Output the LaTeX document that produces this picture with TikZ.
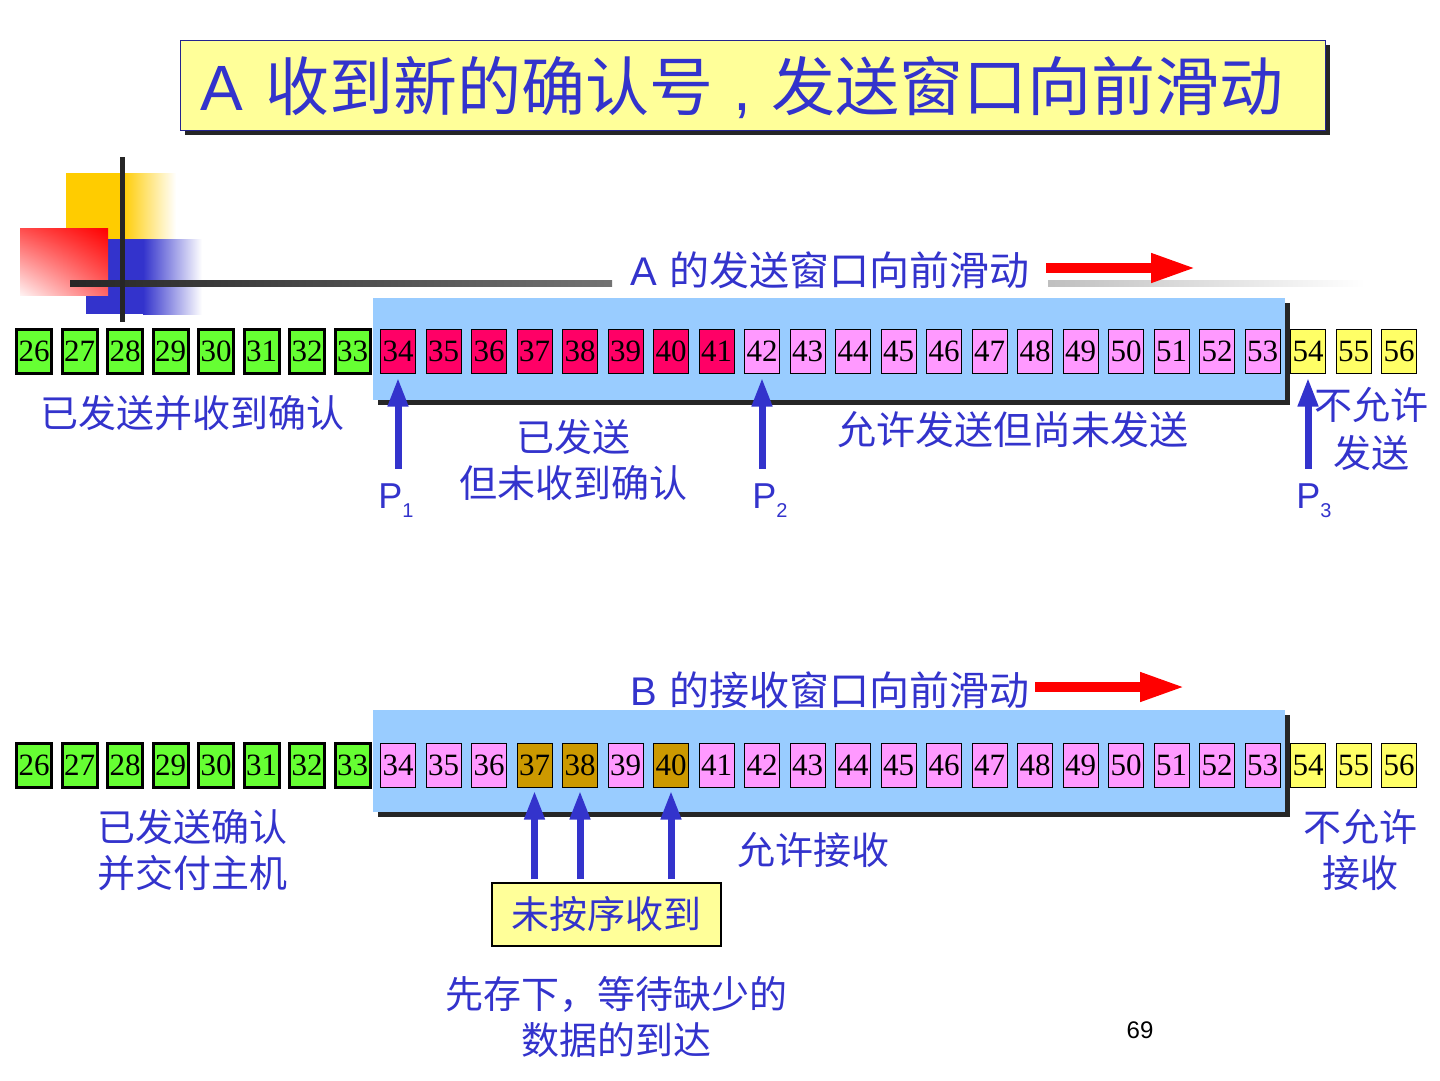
\documentclass[tikz,border=0pt]{standalone}
\usepackage{fontspec}
\setmainfont{Liberation Serif}
\newfontfamily\cjk{Noto Sans CJK SC}
\newfontfamily\arial{Liberation Sans}
\usepackage{xcolor}
\usepackage{tikz}
\usetikzlibrary{positioning, shadows, shadings, arrows.meta}

\definecolor{chu}{HTML}{3333CC}
\definecolor{xanhla}{HTML}{66FF33}
\definecolor{hong}{HTML}{FF0066}
\definecolor{hongnhat}{HTML}{FF99FF}
\definecolor{vang}{HTML}{FFFF66}
\definecolor{vangnhat}{HTML}{FFFF99}
\definecolor{vangdam}{HTML}{FFCC00}
\definecolor{nau}{HTML}{CC9900}
\definecolor{xanhtroi}{HTML}{99CCFF}
\newcommand\cochu[1]{\fontsize{#1}{#1}\selectfont}

\begin{document}
\begin{tikzpicture}[>=latex, x=1pt, y=-1pt,
    o/.style={draw, minimum width=35pt, minimum height=44pt, inner sep=0pt, font=\cochu{31}},
    oxanh/.style={o, fill=xanhla, line width=3pt},
    odo/.style={o, fill=hong, line width=1pt},
    ohong/.style={o, fill=hongnhat, line width=1pt},
    ovang/.style={o, fill=vang, line width=1pt},
    onau/.style={o, fill=nau, line width=1pt},
    nhan/.style={text=chu, font={\cjk\cochu{38}}, align=center, inner sep=0pt},
    pnhan/.style={text=chu, font={\arial\cochu{36}}, anchor=base, inner sep=0pt},
    muiten/.style={-{Triangle[length=29pt, width=19pt]}, draw=chu, line width=7pt},
    muitendo/.style={-{Triangle[length=45pt, width=27pt]}, draw=red, line width=10pt},
    bong/.style={drop shadow={shadow xshift=5pt, shadow yshift=-5pt, fill=black!85, opacity=1}},
    cuaso/.style={bong, fill=xanhtroi, minimum width=912pt, minimum height=102pt, inner sep=0pt}]
    \useasboundingbox (0,0) rectangle (1440,1080);

    % Logo
    \fill[vangdam] (66,173) rectangle (122,239);
    \shade[left color=vangdam, right color=white] (122,173) rectangle (176,239);
    \fill[chu] (86,239) rectangle (143,314);
    \shade[left color=chu, right color=white] (143,239) rectangle (202,314);
    \shade[upper right=red, upper left=red!70, lower right=red!60, lower left=red!5] (20,228) rectangle (108,295);
    \shade[left color=black!85, right color=black!55] (70,280) rectangle (612,286);
    \shade[left color=black!25, right color=white] (1048,280) rectangle (1365,286);
    \draw[line width=5pt, black!85] (122,157) -- (122,322);

    % Tieu de
    \node[bong, draw=chu!70!black, fill=vangnhat, minimum width=1145pt, minimum height=90pt] (khung) at (752.5,85) {};
    \node[text=chu, font={\cjk\cochu{64}}, inner sep=0pt] (tieude) at (742,88)
        {{\arial A}\hspace{22pt}收到新的确认号\hspace{20pt}{\arial ,}\hspace{20pt}发送窗口向前滑动};

    % Cua so gui cua A
    \node[cuaso] (cuaA) at (829,349) {};
    \node[nhan, font={\cjk\cochu{40}}] (truotA) at (830,270) {{\arial A}\hspace{12pt}的发送窗口向前滑动};
    \coordinate (gocA) at (1046,268);
    \coordinate[right=150pt of gocA] (dauA);
    \draw[muitendo] (gocA) -- (dauA);

    \foreach \i in {26,...,33} \node[oxanh] (a\i) at ({34+(\i-26)*45.5},351) {\i};
    \foreach \i in {34,...,41} \node[odo] (a\i) at ({34+(\i-26)*45.5},351) {\i};
    \foreach \i in {42,...,53} \node[ohong] (a\i) at ({34+(\i-26)*45.5},351) {\i};
    \foreach \i in {54,55,56} \node[ovang] (a\i) at ({34+(\i-26)*45.5},351) {\i};

    % Con tro P1, P2, P3
    \coordinate[below=95pt of a34] (p1goc);
    \coordinate[below=95pt of a42] (p2goc);
    \coordinate[below=95pt of a54] (p3goc);
    \draw[muiten] (p1goc) -- ([yshift=-4pt]a34.south);
    \draw[muiten] (p2goc) -- ([yshift=-4pt]a42.south);
    \draw[muiten] (p3goc) -- ([yshift=-4pt]a54.south);
    \node[pnhan] (p1) at (396,508) {P\raisebox{-9pt}{\cochu{20}1}};
    \node[pnhan] (p2) at (770,508) {P\raisebox{-9pt}{\cochu{20}2}};
    \node[pnhan] (p3) at (1314,508) {P\raisebox{-9pt}{\cochu{20}3}};

    \node[nhan] (daxn) at (192,413) {已发送并收到确认};
    \node[nhan] (chuaxn) at (573,460) {已发送\\[8pt]但未收到确认};
    \node[nhan, font={\cjk\cochu{39}}] (chogui) at (1013,430) {允许发送但尚未发送};
    \node[nhan] (khonggui) at (1371,429) {不允许\\[10pt]发送};

    % Cua so nhan cua B
    \node[cuaso] (cuaB) at (829,761) {};
    \node[nhan, font={\cjk\cochu{40}}] (truotB) at (830,690) {{\arial B}\hspace{12pt}的接收窗口向前滑动};
    \coordinate (gocB) at (1035,687);
    \coordinate[right=150pt of gocB] (dauB);
    \draw[muitendo] (gocB) -- (dauB);

    \foreach \i in {26,...,33} \node[oxanh] (b\i) at ({34+(\i-26)*45.5},765) {\i};
    \foreach \i in {34,35,36,39,41} \node[ohong] (b\i) at ({34+(\i-26)*45.5},765) {\i};
    \foreach \i in {42,...,53} \node[ohong] (b\i) at ({34+(\i-26)*45.5},765) {\i};
    \foreach \i in {37,38,40} \node[onau] (b\i) at ({34+(\i-26)*45.5},765) {\i};
    \foreach \i in {54,55,56} \node[ovang] (b\i) at ({34+(\i-26)*45.5},765) {\i};

    \node[nhan] (dagiao) at (192,850) {已发送确认\\[8pt]并交付主机};
    \node[nhan] (chonhan) at (813,850) {允许接收};
    \node[nhan] (khongnhan) at (1360,850) {不允许\\[8pt]接收};

    % Cac goi den khong dung thu tu
    \node[nhan, draw=black, line width=1.5pt, fill=vangnhat, minimum width=229pt, minimum height=63pt] (hop) at (606.5,914.5) {未按序收到};
    \foreach \i in {37,38,40} \draw[muiten] ([yshift=3pt]hop.north -| b\i) -- ([yshift=-3pt]b\i.south);
    \node[nhan] (luu) at (616,1017) {先存下，等待缺少的\\[8pt]数据的到达};

    \node[font={\arial\cochu{24}}, inner sep=0pt] (trang) at (1140,1030) {69};
\end{tikzpicture}
\end{document}
